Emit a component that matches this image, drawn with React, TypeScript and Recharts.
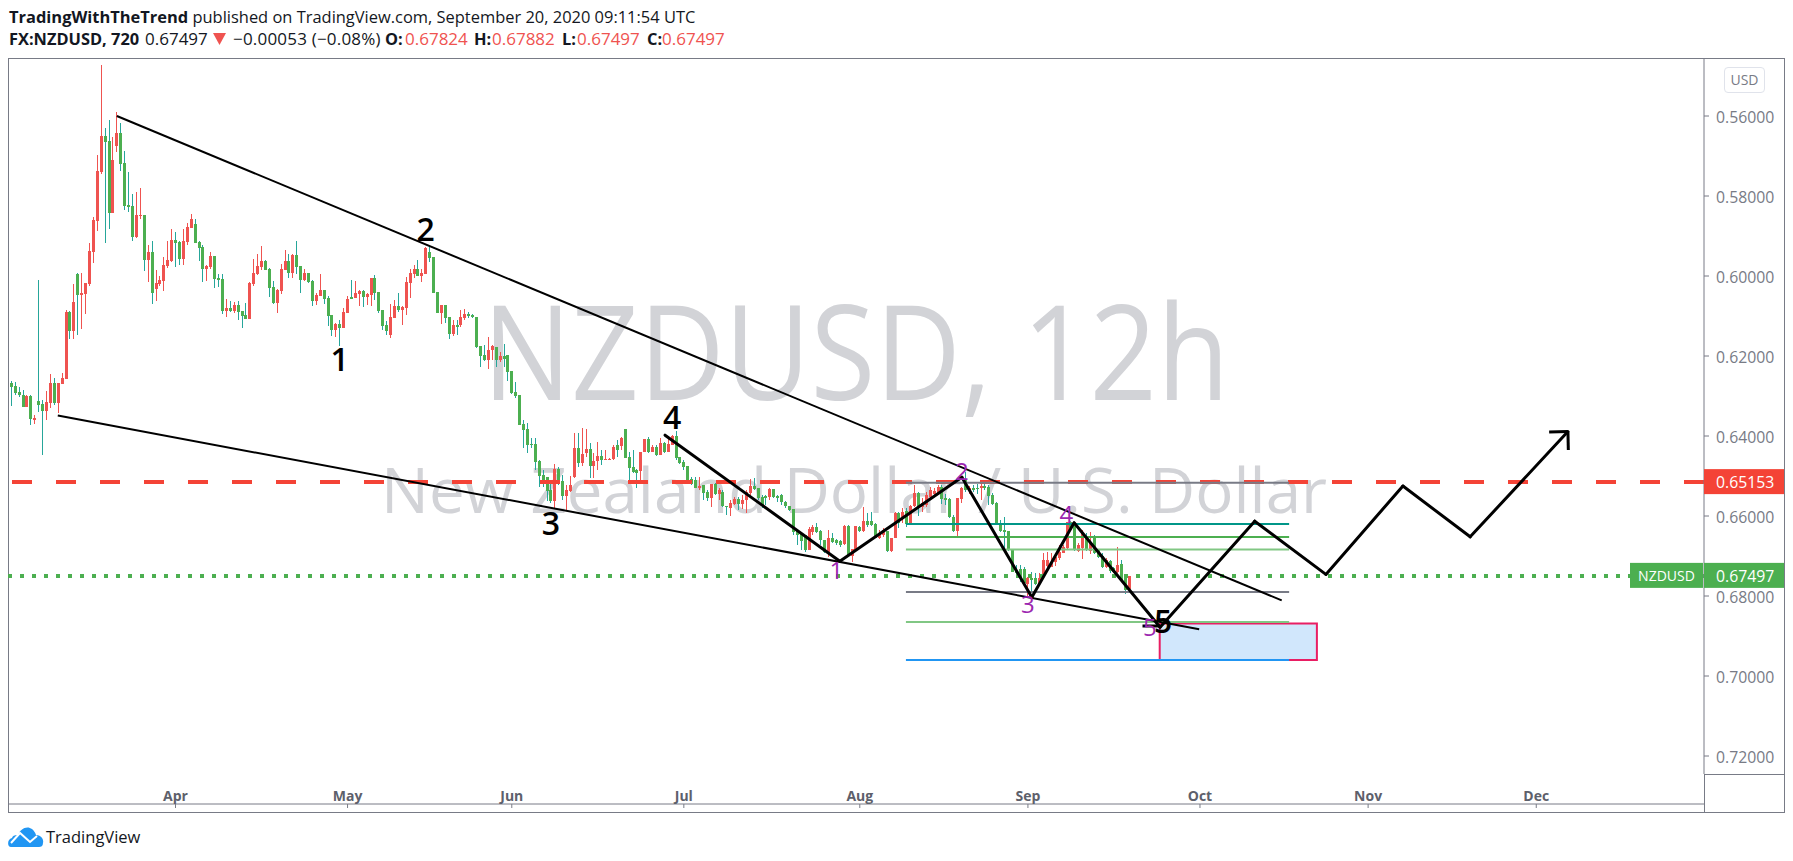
import { ComposedChart, Bar, Cell, XAxis, YAxis, ReferenceLine, ReferenceArea, ReferenceDot } from 'recharts';

// 12h candles. Axis is inverted, so "high" sits lowest on screen.
const opens = [
  .6268,.6275,.6290,.6298,.6327,.6300,.6359,.6313,.6320,.6337,.6318,.6268,.6317,.6270,.6258,.6090,.6137,.5995,.6048,.6045,
  .6020,.5939,.5863,.5739,.5650,.5663,.5842,.5675,.5643,.5718,.5823,.5825,.5903,.5850,.5848,.5960,.5940,.6033,.6020,.6013,
  .5975,.5963,.5910,.5915,.5958,.5915,.5880,.5870,.5915,.5928,.5983,.5978,.5950,.6005,.6008,.6088,.6080,.6088,.6073,.6088,
  .6098,.6108,.6020,.5995,.5978,.5963,.5983,.6028,.6068,.6038,.5985,.5963,.5993,.5948,.5975,.6010,.5993,.6013,.6063,.6050,
  .6035,.6055,.6098,.6135,.6120,.6130,.6093,.6053,.6055,.6045,.6038,.6053,.6048,.6005,.6040,.6085,.6123,.6148,.6105,.6075,
  .6085,.6080,.6018,.5995,.5983,.6000,.5995,.5940,.5953,.6040,.6093,.6073,.6103,.6145,.6123,.6123,.6105,.6095,.6098,.6103,
  .6175,.6198,.6210,.6185,.6178,.6210,.6200,.6198,.6238,.6290,.6298,.6370,.6383,.6420,.6420,.6463,.6498,.6503,.6535,.6563,
  .6483,.6513,.6550,.6538,.6503,.6430,.6468,.6443,.6433,.6475,.6463,.6450,.6460,.6460,.6458,.6423,.6425,.6383,.6453,.6478,
  .6485,.6488,.6440,.6408,.6440,.6428,.6448,.6418,.6440,.6423,.6400,.6453,.6465,.6475,.6508,.6510,.6530,.6523,.6540,.6555,
  .6520,.6545,.6540,.6575,.6580,.6570,.6558,.6570,.6560,.6543,.6525,.6530,.6553,.6550,.6553,.6533,.6550,.6548,.6565,.6575,
  .6583,.6638,.6646,.6648,.6685,.6640,.6628,.6638,.6660,.6690,.6655,.6660,.6663,.6670,.6625,.6700,.6685,.6628,.6638,.6613,
  .6613,.6620,.6655,.6648,.6638,.6687,.6656,.6592,.6602,.6588,.6621,.6574,.6542,.6577,.6573,.6552,.6546,.6546,.6527,.6556,
  .6558,.6602,.6637,.6557,.6510,.6538,.6529,.6529,.6531,.6524,.6527,.6548,.6568,.6618,.6635,.6637,.6683,.6738,.6733,.6733,
  .6771,.6756,.6756,.6771,.6748,.6724,.6727,.6716,.6704,.6693,.6681,.6616,.6622,.6687,.6681,.6649,.6687,.6652,.6685,.6699,
  .6727,.6713,.6731,.6741,.6721,.6754,.67824,
];
const highs = [
  .6324,.6297,.6303,.6327,.6328,.6373,.6370,.6339,.6448,.6360,.6330,.6323,.6342,.6270,.6258,.6158,.6158,.6148,.6133,.6095,
  .6024,.5967,.5888,.5745,.5917,.5883,.5842,.5689,.5737,.5835,.5840,.5912,.5905,.5858,.5988,.6015,.6070,.6063,.6025,.6037,
  .5980,.5965,.5978,.5973,.5973,.5923,.5880,.5918,.5963,.6015,.6013,.5983,.6030,.6027,.6095,.6103,.6090,.6093,.6110,.6130,
  .6108,.6108,.6025,.5998,.5985,.5985,.6053,.6070,.6093,.6045,.5985,.6004,.6005,.5995,.6043,.6013,.6018,.6075,.6073,.6050,
  .6070,.6125,.6150,.6153,.6175,.6130,.6093,.6058,.6055,.6075,.6078,.6073,.6075,.6060,.6093,.6135,.6148,.6155,.6105,.6090,
  .6123,.6098,.6055,.6005,.6000,.6015,.5995,.5965,.6043,.6093,.6120,.6118,.6158,.6150,.6148,.6128,.6110,.6106,.6106,.6180,
  .6227,.6213,.6233,.6210,.6227,.6214,.6227,.6263,.6295,.6305,.6373,.6430,.6443,.6430,.6485,.6527,.6527,.6563,.6568,.6580,
  .6523,.6560,.6585,.6540,.6505,.6477,.6475,.6452,.6505,.6505,.6485,.6473,.6460,.6460,.6460,.6453,.6435,.6455,.6510,.6493,
  .6531,.6513,.6440,.6442,.6440,.6450,.6448,.6442,.6440,.6423,.6460,.6470,.6485,.6518,.6523,.6531,.6535,.6560,.6563,.6578,
  .6548,.6560,.6578,.6598,.6600,.6573,.6585,.6583,.6593,.6548,.6535,.6560,.6581,.6573,.6560,.6556,.6564,.6573,.6581,.6587,
  .6648,.6673,.6685,.6689,.6685,.6648,.6643,.6673,.6693,.6702,.6668,.6673,.6677,.6673,.6700,.6714,.6689,.6639,.6639,.6627,
  .6625,.6656,.6657,.6652,.6689,.6691,.6656,.6631,.6618,.6627,.6623,.6577,.6599,.6589,.6577,.6556,.6552,.6548,.6571,.6573,
  .6606,.6639,.6650,.6568,.6539,.6545,.6539,.6546,.6560,.6535,.6572,.6572,.6623,.6639,.6685,.6687,.6741,.6748,.6764,.6773,
  .6802,.6788,.6773,.6773,.6752,.6727,.6727,.6725,.6710,.6693,.6685,.6633,.6687,.6691,.6707,.6687,.6696,.6696,.6704,.6731,
  .6729,.6743,.6743,.6743,.6764,.6796,.67882,
];
const lows = [
  .6263,.6265,.6278,.6285,.6298,.6298,.6348,.6010,.6310,.6287,.6245,.6256,.6268,.6242,.6085,.6088,.6020,.5992,.5993,.6017,
  .5918,.5852,.5698,.5473,.5631,.5610,.5653,.5590,.5618,.5688,.5740,.5795,.5789,.5780,.5848,.5923,.5913,.5985,.6000,.5953,
  .5913,.5883,.5890,.5913,.5883,.5867,.5845,.5858,.5913,.5923,.5973,.5940,.5950,.5995,.5995,.6058,.6063,.6065,.6063,.6088,
  .6068,.6015,.5958,.5945,.5925,.5960,.5980,.6013,.6033,.5970,.5935,.5945,.5945,.5913,.5975,.5983,.5993,.6010,.6043,.5995,
  .6035,.6050,.6098,.6118,.6110,.6080,.6050,.6010,.6013,.6035,.6035,.6043,.6005,.5998,.6040,.6085,.6113,.6070,.6060,.6043,
  .6075,.6003,.5983,.5973,.5960,.5983,.5928,.5928,.5953,.6040,.6073,.6073,.6103,.6110,.6110,.6085,.6083,.6089,.6095,.6102,
  .6175,.6173,.6153,.6173,.6177,.6189,.6170,.6198,.6238,.6265,.6298,.6360,.6368,.6405,.6405,.6460,.6485,.6502,.6518,.6470,
  .6477,.6498,.6523,.6500,.6393,.6393,.6381,.6383,.6418,.6443,.6416,.6435,.6435,.6456,.6423,.6410,.6402,.6383,.6439,.6435,
  .6483,.6439,.6408,.6402,.6423,.6423,.6406,.6414,.6406,.6398,.6388,.6452,.6460,.6475,.6502,.6502,.6503,.6523,.6535,.6520,
  .6518,.6531,.6535,.6575,.6560,.6552,.6552,.6548,.6535,.6508,.6505,.6530,.6548,.6548,.6531,.6533,.6548,.6545,.6563,.6575,
  .6583,.6638,.6643,.6648,.6628,.6623,.6618,.6635,.6660,.6635,.6643,.6657,.6660,.6623,.6623,.6683,.6625,.6625,.6578,.6593,
  .6590,.6618,.6635,.6631,.6638,.6654,.6589,.6590,.6581,.6581,.6573,.6523,.6539,.6556,.6539,.6527,.6531,.6523,.6523,.6545,
  .6556,.6598,.6554,.6527,.6489,.6526,.6523,.6521,.6518,.6518,.6523,.6543,.6566,.6610,.6602,.6637,.6683,.6723,.6723,.6727,
  .6752,.6739,.6743,.6743,.6693,.6689,.6693,.6696,.6673,.6673,.6614,.6612,.6621,.6668,.6635,.6643,.6639,.6648,.6683,.6693,
  .6706,.6710,.6727,.6677,.6710,.6747,.67497,
];
const closes = [
  .6277,.6292,.6298,.6327,.6300,.6358,.6356,.6323,.6337,.6315,.6268,.6317,.6268,.6256,.6090,.6137,.6065,.6048,.6043,.6018,
  .5938,.5860,.5738,.5650,.5665,.5842,.5710,.5643,.5720,.5825,.5828,.5903,.5848,.5848,.5960,.5940,.6043,.6018,.6010,.5973,
  .5960,.5910,.5918,.5958,.5913,.5878,.5858,.5918,.5930,.5983,.5975,.5950,.6008,.6010,.6088,.6080,.6088,.6073,.6090,.6100,
  .6108,.6018,.5993,.5975,.5963,.5985,.6030,.6068,.6035,.5983,.5963,.5993,.5948,.5978,.6010,.5993,.6015,.6063,.6048,.6035,
  .6058,.6100,.6135,.6120,.6130,.6090,.6058,.6058,.6043,.6038,.6053,.6045,.6005,.6043,.6088,.6125,.6138,.6103,.6075,.6085,
  .6078,.6015,.5993,.5983,.6000,.5993,.5930,.5955,.6043,.6093,.6073,.6105,.6145,.6123,.6128,.6103,.6095,.6100,.6103,.6177,
  .6200,.6210,.6185,.6175,.6210,.6200,.6208,.6240,.6293,.6300,.6373,.6385,.6423,.6423,.6465,.6500,.6517,.6538,.6563,.6483,
  .6515,.6550,.6535,.6523,.6430,.6468,.6445,.6433,.6475,.6463,.6450,.6460,.6458,.6458,.6428,.6435,.6405,.6455,.6480,.6490,
  .6493,.6440,.6408,.6440,.6428,.6448,.6418,.6440,.6420,.6400,.6455,.6468,.6478,.6510,.6520,.6530,.6525,.6543,.6555,.6520,
  .6545,.6535,.6575,.6578,.6568,.6558,.6570,.6560,.6540,.6525,.6533,.6555,.6573,.6555,.6533,.6553,.6555,.6565,.6575,.6585,
  .6640,.6648,.6663,.6685,.6632,.6628,.6640,.6660,.6690,.6655,.6665,.6668,.6673,.6625,.6700,.6683,.6625,.6638,.6613,.6623,
  .6623,.6655,.6643,.6635,.6688,.6656,.6593,.6618,.6589,.6621,.6574,.6543,.6577,.6568,.6547,.6535,.6537,.6527,.6558,.6559,
  .6603,.6637,.6554,.6531,.6535,.6531,.6535,.6532,.6524,.6529,.6549,.6570,.6621,.6637,.6639,.6685,.6741,.6743,.6752,.6768,
  .6754,.6760,.6771,.6754,.6710,.6710,.6714,.6702,.6691,.6677,.6616,.6631,.6685,.6672,.6643,.6685,.6664,.6693,.6702,.6727,
  .6710,.6738,.6741,.6723,.6760,.6785,.67497,
];

const monthTicks = [42, 86, 128, 172, 217, 260, 304, 347, 390];
const monthLabels = ['Apr', 'May', 'Jun', 'Jul', 'Aug', 'Sep', 'Oct', 'Nov', 'Dec'];
const priceTicks = [0.56, 0.58, 0.6, 0.62, 0.64, 0.66, 0.68, 0.7, 0.72];
const resistanceLevel = 0.65153;
const lastPrice = 0.67497;

// hand drawn trend lines: [bar, price, bar, price]
const trendLines = [
  [27, 0.56, 324.9, 0.6811],
  [11.9, 0.6349, 303.8, 0.6883],
];
const wavePath = [
  [167.2, 0.6398], [211.9, 0.6713], [243.1, 0.6503], [261, 0.6803], [271.8, 0.6617], [293.8, 0.6878],
  [318, 0.6613], [336.2, 0.6746], [355.9, 0.6525], [373.1, 0.6652], [398.1, 0.6389],
];
const arrowHead = [
  [393.3, 0.639, 398.1, 0.6389],
  [398.2, 0.6435, 398.1, 0.6389],
  [289.3, 0.6875, 293.8, 0.6875],
];
const fibLevels = [0.6517, 0.662, 0.66525, 0.6684, 0.679, 0.6865, 0.696];
const fibColors = ['#787b86', '#009688', '#4caf50', '#81c784', '#787b86', '#81c784', '#2196f3'];
const blackLabels = [
  { text: '1', bar: 84, price: 0.6210 },
  { text: '2', bar: 106, price: 0.5885 },
  { text: '3', bar: 138, price: 0.6618 },
  { text: '4', bar: 169, price: 0.6353 },
  { text: '5', bar: 294.6, price: 0.6865 },
];
const purpleLabels = [
  { text: '1', bar: 211, price: 0.6735 },
  { text: '2', bar: 243.1, price: 0.6489 },
  { text: '3', bar: 260, price: 0.6822 },
  { text: '4', bar: 269.8, price: 0.6597 },
  { text: '5', bar: 291.2, price: 0.6879 },
];

const candles = opens.map((open, i) => ({
  bar: i,
  body: [Math.min(open, closes[i]), Math.max(open, closes[i])],
  wick: [lows[i], highs[i]],
  up: closes[i] >= open,
}));

const AXIS = '#787b86';
const RED = '#ef5350';
const GREEN = '#4caf50';
const TEAL = '#26a69a';
const FONT = '"Open Sans", sans-serif';

// snap candles to whole pixels, otherwise 1px wicks go blurry.
// height comes through negative here because the price axis is reversed
function snapped(props: any, w: number) {
  const cx = Math.round(props.x + props.width / 2);
  const top = Math.round(Math.min(props.y, props.y + props.height));
  const bottom = Math.round(Math.max(props.y, props.y + props.height));
  return <rect x={cx - (w - 1) / 2} y={top} width={w} height={Math.max(1, bottom - top)} fill={props.fill} />;
}

function MonthTick({ x, payload }: any) {
  return (
    <text x={x} y={801} textAnchor="middle" fill="#5d606b" fontSize={14} fontWeight={700} fontFamily={FONT}>
      {monthLabels[monthTicks.indexOf(payload.value)]}
    </text>
  );
}

function PriceTick({ x, y, payload }: any) {
  const v = payload.value;
  const fixed = v.toFixed(5);
  if (v === resistanceLevel || v === lastPrice) {
    const bg = v === lastPrice ? GREEN : '#f44336';
    return (
      <g>
        {v === lastPrice && (
          <>
            <rect x={x - 86} y={y - 13} width={73} height={25} fill={bg} />
            <text x={x - 49.5} y={y + 5} fill="#fff" fontSize={14} fontFamily={FONT} textAnchor="middle">NZDUSD</text>
          </>
        )}
        <rect x={x - 12} y={y - 13} width={80} height={25} fill={bg} />
        <text x={x} y={y + 6} fill="#fff" fontSize={15.8} fontFamily={FONT}>{fixed}</text>
      </g>
    );
  }
  return <text x={x} y={y + 7} fill={AXIS} fontSize={15.8} fontFamily={FONT}>{fixed}</text>;
}

function Seg({ left, bold, color, size = 17, spacing = 0, children }: any) {
  return (
    <span style={{ position: 'absolute', left, top: 28, fontSize: size, fontWeight: bold ? 700 : 400, color, letterSpacing: spacing, lineHeight: '22px' }}>
      {children}
    </span>
  );
}

function Header() {
  return (
    <div style={{ position: 'absolute', left: 9, top: 0, fontFamily: FONT, color: '#131722', whiteSpace: 'nowrap' }}>
      <div style={{ position: 'absolute', left: 0, top: 6, fontSize: 16.45, lineHeight: '22px' }}>
        <b>TradingWithTheTrend</b> published on TradingView.com, September 20, 2020 09:11:54 UTC
      </div>
      <Seg left={0} bold size={16.4}>FX:NZDUSD, 720</Seg>
      <Seg left={136}>0.67497</Seg>
      <svg width={13} height={12} style={{ position: 'absolute', left: 204, top: 33 }}>
        <polygon points="0,0 13,0 6.5,12" fill={RED} />
      </svg>
      <Seg left={224} spacing={0.2}>−0.00053 (−0.08%)</Seg>
      <Seg left={376} bold size={16.4}>O:</Seg>
      <Seg left={396} color={RED}>0.67824</Seg>
      <Seg left={465} bold size={16.4}>H:</Seg>
      <Seg left={483} color={RED}>0.67882</Seg>
      <Seg left={553} bold size={16.4}>L:</Seg>
      <Seg left={568} color={RED}>0.67497</Seg>
      <Seg left={638} bold size={16.4}>C:</Seg>
      <Seg left={653} color={RED}>0.67497</Seg>
    </div>
  );
}

export default function App() {
  return (
    <div style={{ position: 'absolute', left: 0, top: 0, width: 1793, height: 861, background: '#fff', overflow: 'hidden' }}>
      <Header />
      <div style={{ position: 'absolute', left: 8, top: 58, width: 1777, height: 755, border: `1px solid ${AXIS}`, boxSizing: 'border-box' }} />
      <div style={{ position: 'absolute', left: 1704, top: 774, width: 80, height: 38, borderLeft: `1px solid ${AXIS}`, borderTop: `1px solid ${AXIS}`, boxSizing: 'border-box' }} />
      <svg width={1793} height={861} style={{ position: 'absolute', left: 0, top: 0 }}>
        <text x={856} y={400} textAnchor="middle" fontSize={132} fontFamily={FONT} fill="#d2d3d7" textLength={747} lengthAdjust="spacingAndGlyphs">NZDUSD, 12h</text>
        <text x={854} y={513} textAnchor="middle" fontSize={63} fontFamily={FONT} fill="#d2d3d7" textLength={946} lengthAdjust="spacingAndGlyphs">New Zealand Dollar / U.S. Dollar</text>
      </svg>
      <div style={{ position: 'absolute', left: 0, top: 0 }}>
        <ComposedChart width={1793} height={861} data={candles} margin={{ top: 58, left: 8, right: 9, bottom: 49 }}>
          <XAxis
            xAxisId="time"
            dataKey="bar"
            type="number"
            domain={[-0.84, 432.9]}
            allowDataOverflow
            ticks={monthTicks}
            interval={0}
            height={38}
            stroke={AXIS}
            tickSize={4}
            tick={MonthTick}
          />
          <XAxis xAxisId="bodies" dataKey="bar" type="number" domain={[-0.84, 432.9]} allowDataOverflow hide />
          <YAxis
            orientation="right"
            reversed
            width={80}
            domain={[0.5455, 0.7245]}
            allowDataOverflow
            ticks={[...priceTicks, resistanceLevel, lastPrice]}
            interval={0}
            stroke={AXIS}
            tickSize={5}
            tickMargin={7}
            tick={PriceTick}
          />
          <Bar xAxisId="time" dataKey="wick" barSize={1} isAnimationActive={false} shape={(p: any) => snapped(p, 1)}>
            {candles.map((c) => <Cell key={c.bar} fill={c.up ? TEAL : RED} />)}
          </Bar>
          <Bar xAxisId="bodies" dataKey="body" barSize={3} isAnimationActive={false} minPointSize={1} shape={(p: any) => snapped(p, 3)}>
            {candles.map((c) => <Cell key={c.bar} fill={c.up ? GREEN : RED} />)}
          </Bar>
          <ReferenceLine xAxisId="time" y={resistanceLevel} stroke="#f44336" strokeWidth={4} strokeDasharray="20 24" />
          <ReferenceLine xAxisId="time" y={lastPrice} stroke={GREEN} strokeWidth={4} strokeDasharray="4 8" />
          {fibLevels.map((level, i) => (
            <ReferenceLine
              key={level}
              xAxisId="time"
              stroke={fibColors[i]}
              strokeWidth={2}
              segment={[{ x: 228.8, y: level }, { x: 326.8, y: level }]}
            />
          ))}
          <ReferenceArea xAxisId="time" x1={293.7} x2={333.9} y1={0.6869} y2={0.696} fill="#d1e7fc" fillOpacity={1} stroke="#e91e63" strokeWidth={2} />
          {trendLines.map((t, i) => (
            <ReferenceLine key={i} xAxisId="time" stroke="#000" strokeWidth={2} segment={[{ x: t[0], y: t[1] }, { x: t[2], y: t[3] }]} />
          ))}
          {wavePath.slice(1).map((p, i) => (
            <ReferenceLine
              key={i}
              xAxisId="time"
              stroke="#000"
              strokeWidth={3}
              strokeLinecap="round"
              segment={[{ x: wavePath[i][0], y: wavePath[i][1] }, { x: p[0], y: p[1] }]}
            />
          ))}
          {arrowHead.map((t, i) => (
            <ReferenceLine key={i} xAxisId="time" stroke="#000" strokeWidth={3} segment={[{ x: t[0], y: t[1] }, { x: t[2], y: t[3] }]} />
          ))}
          {purpleLabels.map((l) => (
            <ReferenceDot key={l.text} xAxisId="time" x={l.bar} y={l.price} r={0} stroke="none"
              label={{ value: l.text, position: 'center', fill: '#9c27b0', fontSize: 24, fontFamily: FONT }} />
          ))}
          {blackLabels.map((l) => (
            <ReferenceDot key={l.text} xAxisId="time" x={l.bar} y={l.price} r={0} stroke="none"
              label={{ value: l.text, position: 'center', fill: '#000', fontSize: 32, fontWeight: 600, fontFamily: FONT }} />
          ))}
        </ComposedChart>
      </div>
      <div style={{ position: 'absolute', left: 1724, top: 67, width: 41, height: 26, border: '1px solid #e0e3eb', borderRadius: 4, boxSizing: 'border-box', color: AXIS, fontFamily: FONT, fontSize: 14, lineHeight: '24px', textAlign: 'center' }}>USD</div>
      <svg width={36} height={22} viewBox="0 0 36 22" style={{ position: 'absolute', left: 8, top: 826 }}>
        <path d="M3 21 C-1 21 -1 13 4 12 C5 9 8 9 10 9 C12 3 19 -1 24 3 C26 5 27 6 28 9 C33 9 36 13 35 17 C35 20 33 21 31 21 Z" fill="#2196f3" />
        <path d="M3 17 L12 7 L22 16 L29 10" stroke="#fff" strokeWidth={2} fill="none" />
      </svg>
      <div style={{ position: 'absolute', left: 46, top: 825, fontFamily: FONT, fontSize: 16.5, lineHeight: '24px', color: '#131722' }}>TradingView</div>
    </div>
  );
}
